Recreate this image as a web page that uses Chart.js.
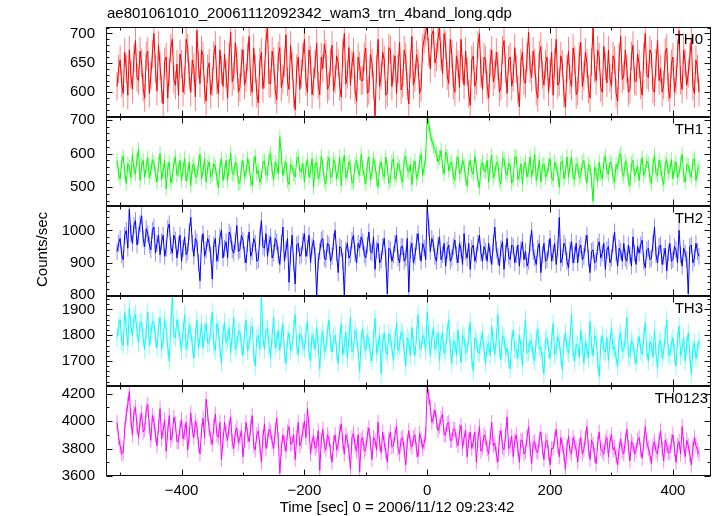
<!DOCTYPE html>
<html><head><meta charset="utf-8">
<script src="https://cdn.jsdelivr.net/npm/chart.js@4"></script>
<style>
html,body{margin:0;padding:0;background:#fff;}
#wrap{position:relative;width:717px;height:516px;overflow:hidden;background:#fff;font-family:'Liberation Sans',Arial,sans-serif;color:#000;}
#wrap canvas{position:absolute;left:0;top:0;}
.t{position:absolute;font-size:15px;line-height:15px;white-space:nowrap;font-weight:normal;color:#000;}
</style></head><body>
<div id="wrap">
<canvas id="c0" width="717" height="516"></canvas>
<canvas id="c1" width="717" height="516"></canvas>
<canvas id="c2" width="717" height="516"></canvas>
<canvas id="c3" width="717" height="516"></canvas>
<canvas id="c4" width="717" height="516"></canvas>
<div class="t" id="title" style="left:107px;top:5px">ae801061010_20061112092342_wam3_trn_4band_long.qdp</div>
<div class="t" id="xtitle" style="left:397px;top:499px;transform:translateX(-50%)">Time [sec] 0 = 2006/11/12 09:23:42</div>
<div class="t" id="ytitle" style="left:34px;top:212px;writing-mode:vertical-rl;transform:rotate(180deg)">Counts/sec</div>
</div>
<script>
// ---- data ----
const TIME_START = -505, TIME_STEP = 2.5;   // sampling grid of the light curves (s)
const SERIES_NAMES = ['TH0', 'TH1', 'TH2', 'TH3', 'TH0123'];
const TH0 = [
610,640,655,615,598,668,640,595,672,630,605,658,688,625,620,670,650,608,590,662,
670,598,628,665,700,640,602,680,645,606,580,652,660,590,635,675,690,622,612,648,
595,665,648,600,620,690,675,628,600,655,642,592,705,648,615,672,662,604,585,640,
650,596,618,662,680,620,598,672,638,610,665,632,590,660,702,618,628,684,655,600,
608,650,672,612,625,660,695,618,600,675,640,598,582,652,668,606,630,688,710,615,
615,670,652,604,588,662,676,608,622,650,698,618,605,680,645,598,570,640,660,605,
632,660,690,618,600,672,655,596,618,648,684,612,596,660,640,682,665,605,610,650,
680,602,622,662,650,610,592,666,700,614,630,676,612,648,668,604,585,660,645,620,
620,660,675,598,603,664,650,612,560,640,690,610,628,668,655,595,600,676,672,610,
640,662,598,640,685,604,615,672,660,610,580,648,695,612,625,664,650,598,608,675,
690,702,712,668,640,698,705,650,660,690,712,660,632,700,680,628,615,690,665,612,
600,662,648,608,690,640,612,670,635,598,578,655,662,610,620,680,700,632,605,660,
655,612,590,650,672,618,630,668,645,600,610,672,688,640,598,655,660,610,625,676,
640,605,575,650,668,620,615,660,702,640,625,670,650,602,590,664,678,630,612,648,
660,600,632,668,595,650,690,612,618,662,648,598,575,640,670,622,610,675,655,596,
602,660,685,610,628,668,650,605,590,652,710,640,620,672,660,608,600,678,645,616,
672,624,610,662,655,598,585,660,695,622,628,672,640,600,605,662,680,620,618,665,
648,612,595,660,700,630,625,672,665,605,600,650,688,620,640,600,612,668,675,608,
590,648,660,600,620,666,705,620,605,672,650,612,632,660,690,610,598,655,640,600];
const TH1 = [
580,540,525,575,592,545,510,570,560,528,598,552,540,585,612,520,565,580,530,562,
588,528,545,582,572,540,515,568,600,522,548,580,495,555,575,512,530,572,590,535,
552,580,520,556,585,518,540,575,505,560,570,530,532,570,598,525,548,585,515,560,
575,530,538,570,560,528,498,562,585,520,545,580,520,562,602,540,538,575,565,512,
512,560,580,530,545,585,565,522,505,572,592,540,550,515,528,575,578,535,540,590,
600,548,522,575,562,540,650,590,535,560,575,520,508,568,560,540,530,582,590,548,
545,570,515,560,582,530,548,585,500,565,575,525,538,592,565,520,510,572,588,530,
532,582,570,525,548,590,505,568,595,528,540,575,562,512,515,568,580,548,535,598,
558,530,510,568,590,522,542,585,568,525,500,560,575,542,530,590,560,512,520,575,
585,525,538,572,560,530,515,582,592,550,545,568,508,560,578,525,540,575,598,535,
560,590,712,690,655,640,622,612,600,575,588,610,560,540,605,592,548,568,575,530,
520,572,590,540,545,580,565,525,505,560,580,548,538,592,560,522,498,562,575,548,
548,580,515,562,595,528,540,575,570,520,510,585,585,545,535,572,562,512,525,590,
590,522,540,570,508,565,575,530,552,590,530,560,598,520,545,580,515,565,570,530,
540,565,585,528,520,575,562,540,500,572,578,525,545,590,530,565,590,530,522,570,
565,528,535,572,580,540,512,568,560,520,458,560,545,518,575,540,525,575,592,548,
538,575,570,530,515,568,555,590,600,540,532,578,565,520,505,570,580,535,545,562,
520,562,588,535,548,578,570,528,512,565,595,540,535,580,560,525,508,570,582,540,
550,582,525,560,575,528,540,570,598,535,515,568,565,540,530,578,585,520,548,560];
const TH2 = [
935,960,975,925,910,985,1000,945,1065,990,960,1015,1030,955,985,1020,1045,975,950,1005,
990,955,940,1000,1010,930,960,985,925,965,985,920,945,1005,1020,950,930,985,970,915,
955,985,905,945,980,925,935,995,1040,960,920,975,965,900,845,960,990,920,940,975,
960,925,850,955,975,905,930,980,1000,915,945,965,915,995,985,940,930,965,1015,935,
940,985,970,925,900,960,995,920,935,975,960,905,910,980,1030,950,945,990,920,960,
980,915,930,975,965,925,895,960,1010,905,940,975,840,925,985,900,835,955,960,920,
925,965,990,920,945,985,900,950,970,920,800,905,935,970,975,915,910,960,955,905,
920,965,1000,930,870,950,945,905,800,940,960,915,925,970,985,930,900,960,945,980,
965,925,915,955,995,935,930,980,880,940,960,900,910,950,975,915,805,945,940,905,
925,960,985,915,900,950,950,905,915,975,810,940,960,900,920,965,990,935,905,960,
945,910,1075,1010,935,975,960,920,905,955,980,910,925,960,890,940,955,905,915,950,
970,925,900,960,940,895,990,935,915,960,880,945,955,905,925,960,985,930,905,950,
935,905,960,925,895,960,1010,940,920,890,945,965,880,930,975,920,910,955,950,900,
925,955,890,940,965,910,935,890,905,960,1000,935,915,895,945,960,870,925,960,905,
910,945,975,905,930,960,895,945,1040,900,915,960,950,905,885,940,965,900,925,960,
900,945,955,910,920,960,985,915,870,935,940,900,905,950,965,915,930,960,880,940,
950,900,915,960,995,930,890,945,935,905,960,915,905,955,925,890,980,930,895,950,
930,955,970,905,885,940,945,910,915,960,1010,925,900,950,955,895,920,945,875,930,
960,905,910,950,940,900,1000,925,890,945,930,910,805,950,955,900,915,960,935,920];
const TH3 = [
1790,1835,1860,1775,1760,1890,1830,1760,1905,1840,1795,1870,1880,1815,1770,1850,1850,1790,1745,1820,
1890,1760,1800,1855,1845,1790,1750,1830,1870,1745,1780,1860,1820,1755,1700,1835,1950,1800,1790,1860,
1830,1785,1740,1820,1880,1745,1775,1840,1815,1760,1710,1800,1860,1750,1790,1845,1750,1810,1845,1770,
1770,1825,1890,1760,1740,1845,1820,1750,1690,1810,1850,1770,1785,1830,1730,1800,1870,1745,1760,1815,
1815,1760,1720,1805,1860,1740,1765,1820,1835,1730,1680,1790,1800,1745,1950,1790,1745,1820,1825,1760,
1710,1800,1870,1750,1775,1820,1740,1795,1845,1735,1690,1780,1810,1740,1760,1825,1880,1760,1725,1805,
1800,1760,1745,1810,1855,1735,1700,1800,1780,1745,1830,1760,1670,1790,1815,1735,1750,1810,1860,1770,
1735,1790,1800,1740,1690,1780,1845,1725,1760,1810,1710,1790,1870,1735,1745,1820,1795,1740,1660,1785,
1825,1760,1740,1800,1780,1725,1700,1790,1865,1730,1755,1800,1650,1770,1810,1740,1725,1805,1790,1750,
1700,1785,1850,1740,1760,1815,1805,1735,1680,1790,1775,1720,1830,1760,1720,1800,1880,1750,1745,1800,
1790,1740,1890,1800,1720,1785,1830,1745,1765,1810,1700,1780,1810,1730,1745,1815,1860,1750,1690,1775,
1775,1720,1820,1760,1695,1800,1790,1730,1740,1795,1850,1710,1660,1790,1780,1735,1730,1780,1810,1740,
1690,1760,1770,1720,1835,1775,1725,1790,1880,1745,1705,1800,1790,1730,1750,1705,1670,1780,1820,1745,
1745,1710,1800,1755,1680,1790,1860,1730,1735,1780,1770,1720,1700,1790,1825,1745,1755,1700,1650,1780,
1790,1745,1710,1780,1845,1725,1740,1795,1775,1720,1665,1770,1810,1750,1730,1790,1880,1735,1700,1765,
1760,1715,1820,1760,1690,1775,1745,1710,1855,1760,1720,1800,1785,1700,1640,1760,1800,1740,1735,1790,
1700,1770,1830,1745,1755,1710,1680,1790,1810,1735,1745,1790,1870,1720,1715,1780,1765,1720,1690,1760,
1795,1740,1725,1790,1850,1740,1700,1775,1760,1715,1820,1730,1670,1770,1780,1710,1735,1800,1860,1730,
1720,1765,1790,1730,1680,1780,1835,1720,1745,1790,1700,1760,1810,1725,1650,1745,1770,1710,1740,1780];
const TH0123 = [
3990,3880,3820,3760,3770,3940,4050,4120,4215,4010,3900,4060,4100,3960,3880,4000,4060,3920,3940,4080,
4120,3960,3860,4040,4000,3900,3820,3960,4090,3870,3930,4010,3780,3920,4040,3860,3900,4030,3980,3850,
3850,3950,4010,3870,3920,3990,3790,3900,4060,3940,3880,4000,3960,3830,3760,3930,4020,3880,4160,4050,
3940,3880,3830,3960,4050,3900,3880,3990,3720,3860,3990,3910,3860,3960,4030,3850,3800,3920,3950,3840,
3880,3930,3740,3860,3990,3900,3850,3950,4040,3820,3790,3900,3930,3820,3700,3880,3980,3800,3860,3940,
3920,3850,3800,3930,4020,3860,3620,3800,3900,3840,3780,3920,3960,3830,3840,3900,3720,3880,3990,3820,
3850,3930,4000,3880,4090,3960,3760,3850,3890,3800,3820,3930,3640,3860,3940,3820,3790,3900,3870,3780,
3700,3840,3900,3790,3830,3920,3980,3850,3760,3900,3860,3780,3650,3880,3910,3820,3780,3900,3630,3860,
3880,3780,3800,3900,3950,3840,3720,3880,3860,3790,3990,3840,3770,3920,3840,3780,3700,3870,3920,3810,
3820,3900,3960,3800,3760,3870,3880,3790,3680,3850,3930,3840,3810,3880,3900,3790,3740,3910,3870,3800,
3840,3900,4255,4180,4100,3990,4030,4080,4000,3930,3960,4020,4050,3900,3900,3980,3990,3860,3860,3940,
3940,3860,3820,3920,3970,3800,3880,3930,3740,3860,3920,3800,3850,3920,3700,3860,3960,3780,3810,3900,
3880,3800,3760,3880,3990,3820,3840,3760,3700,3880,3930,3810,3790,3900,4030,3800,3820,3890,3740,3860,
3900,3800,3700,3860,3860,3760,3780,3880,3960,3800,3690,3840,3850,3780,3770,3870,3920,3800,3720,3850,
3860,3770,3680,3800,3800,3870,3940,3820,3740,3880,3820,3760,3650,3810,3890,3780,3760,3880,3840,3790,
3700,3820,3880,3760,3790,3880,3960,3800,3720,3860,3830,3750,3690,3840,3920,3800,3780,3760,3850,3880,
3740,3850,3900,3790,3810,3740,3680,3800,3870,3780,3760,3860,3940,3810,3710,3850,3830,3760,3790,3860,
3880,3790,3730,3840,3960,3850,3800,3760,3690,3820,3850,3780,3760,3860,3930,3800,3710,3860,3820,3770,
3770,3850,3900,3800,3700,3820,3850,3760,3960,3830,3740,3860,3820,3760,3680,3800,3880,3820,3790,3760];
const ERRORS = [24, 22, 26, 36, 55];          // 1-sigma error bar per series
const Y_MIN = [558, 444, 798, 1603, 3600];
const Y_MAX = [711, 709, 1075, 1952, 4255];
const Y_TICK_LABELS = [[600,650,700],[500,600,700],[800,900,1000],[1700,1800,1900],[3600,3800,4000,4200]];
const Y_MINOR_STEP = [10, 20, 20, 20, 100];
const X_MIN = -523, X_MAX = 462;
const X_TICK_LABELS = [-400, -200, 0, 200, 400];
const X_MINOR_STEP = 100;

// ---- style / layout ----
const SERIES = [TH0, TH1, TH2, TH3, TH0123];
const COLORS = ['#ff0000', '#00ff00', '#0000ff', '#00ffff', '#ff00ff'];
const LIGHT = ['rgba(255,0,0,0.5)', 'rgba(0,255,0,0.5)', 'rgba(0,0,255,0.45)', 'rgba(0,255,255,0.5)', 'rgba(255,0,255,0.5)'];
const PANEL_TOP = [27, 117, 206, 296, 386];
const PANEL_BOTTOM = [117, 206, 296, 386, 476];
const LABEL_RIGHT = [14, 14, 14, 14, 9];
const W = 717, H = 516, XAXIS_H = 24;

Chart.defaults.font.family = "'Liberation Sans', Arial, sans-serif";
Chart.defaults.font.size = 15;
Chart.defaults.color = '#000';

const TIMES = TH0.map((_, i) => TIME_START + i * TIME_STEP);
const fmt = v => (v < 0 ? '\u2212' + Math.abs(v) : String(v));

const framePlugin = {
  id: 'frame',
  beforeDatasetsDraw(chart, args, opts) {
    const { ctx, chartArea: a } = chart;
    const ys = chart.scales.y, xs = chart.scales.x;
    const data = chart.data.datasets[0].data;
    ctx.save();
    ctx.beginPath(); ctx.rect(a.left, a.top, a.right - a.left, a.bottom - a.top); ctx.clip();
    ctx.strokeStyle = opts.light; ctx.lineWidth = 1;
    ctx.beginPath();
    data.forEach(p => {
      const x = xs.getPixelForValue(p.x);
      ctx.moveTo(x, ys.getPixelForValue(p.y + opts.err));
      ctx.lineTo(x, ys.getPixelForValue(p.y - opts.err));
    });
    ctx.stroke();
    ctx.restore();
  },
  afterDatasetsDraw(chart, args, opts) {
    const { ctx, chartArea: a } = chart;
    const ys = chart.scales.y, xs = chart.scales.x;
    const L = Math.round(a.left) + 0.5, R = Math.round(a.right) - 0.5;
    const T = Math.round(a.top) + 0.5, B = Math.round(a.bottom) - 0.5;
    ctx.save();
    ctx.strokeStyle = '#111'; ctx.lineWidth = 1;
    ctx.strokeRect(L, T, R - L, B - T);
    ctx.beginPath();
    const k = opts.k;
    const major = Y_TICK_LABELS[k][1] - Y_TICK_LABELS[k][0];
    const ms = Y_MINOR_STEP[k];
    for (let v = Math.ceil(Y_MIN[k] / ms) * ms; v <= Y_MAX[k]; v += ms) {
      const len = (v % major === 0) ? 6 : 3;
      const y = Math.round(ys.getPixelForValue(v)) + 0.5;
      ctx.moveTo(L, y); ctx.lineTo(L + len, y);
      ctx.moveTo(R, y); ctx.lineTo(R - len, y);
    }
    const xmajor = X_TICK_LABELS[1] - X_TICK_LABELS[0];
    for (let v = Math.ceil(X_MIN / X_MINOR_STEP) * X_MINOR_STEP; v <= X_MAX; v += X_MINOR_STEP) {
      const len = (v % xmajor === 0) ? 6 : 3;
      const x = Math.round(xs.getPixelForValue(v)) + 0.5;
      ctx.moveTo(x, T); ctx.lineTo(x, T + len);
      ctx.moveTo(x, B); ctx.lineTo(x, B - len);
    }
    ctx.stroke();
    ctx.restore();
  }
};

SERIES.forEach((vals, k) => {
  const last = k === SERIES.length - 1;
  new Chart(document.getElementById('c' + k), {
    type: 'line',
    data: {
      datasets: [{
        label: SERIES_NAMES[k],
        data: vals.map((v, i) => ({ x: TIMES[i], y: v })),
        borderColor: COLORS[k], borderWidth: 1, pointRadius: 0, tension: 0, fill: false
      }]
    },
    options: {
      responsive: false, animation: false, devicePixelRatio: 1, events: [],
      layout: { padding: { left: 0, right: 6, top: PANEL_TOP[k], bottom: last ? H - PANEL_BOTTOM[k] - XAXIS_H : H - PANEL_BOTTOM[k] } },
      plugins: { legend: { display: false }, tooltip: { enabled: false }, frame: { err: ERRORS[k], light: LIGHT[k], k: k } },
      scales: {
        x: {
          type: 'linear', min: X_MIN, max: X_MAX, display: last,
          grid: { display: false, drawTicks: false }, border: { display: false },
          ticks: { padding: 6, maxRotation: 0, autoSkip: false, callback: v => fmt(v) },
          afterBuildTicks: s => { s.ticks = X_TICK_LABELS.map(v => ({ value: v })); },
          afterFit: s => { s.height = last ? XAXIS_H : 0; }
        },
        y: {
          type: 'linear', min: Y_MIN[k], max: Y_MAX[k],
          grid: { display: false, drawTicks: false }, border: { display: false },
          ticks: { padding: 11, autoSkip: false, callback: v => fmt(v) },
          afterBuildTicks: s => { s.ticks = Y_TICK_LABELS[k].map(v => ({ value: v })); },
          afterFit: s => { s.width = 106; }
        }
      }
    },
    plugins: [framePlugin]
  });
  const d = document.createElement('div');
  d.className = 't';
  d.textContent = SERIES_NAMES[k];
  d.style.right = LABEL_RIGHT[k] + 'px';
  d.style.top = (PANEL_TOP[k] + 4) + 'px';
  document.getElementById('wrap').appendChild(d);
});
</script>
</body></html>
